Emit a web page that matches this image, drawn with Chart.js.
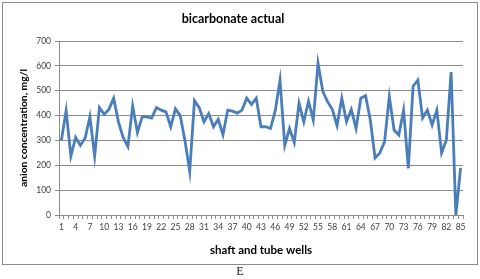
<!DOCTYPE html>
<html>
<head>
    <title>bicarbonate actual</title>
    <style>
        body { margin: 0; background: #fff; width: 480px; height: 279px; overflow: hidden; position: relative; }
        #box { position: absolute; left: 2px; top: 2px; width: 474px; height: 261px; border: 1px solid #8a8a8a; }
        #caption { position: absolute; left: 0; width: 480px; top: 264px; text-align: center; font-family: "Liberation Serif", serif; font-size: 12px; color: #222; }
    </style>
</head>
<body>
    <div id="box"><canvas id="myChart"></canvas></div>
    <div id="caption">E</div>

    <script src="https://cdn.jsdelivr.net/npm/chart.js"></script>
<script>
    // well numbers on the x axis
    const wells = [1, 2, 3, 4, 5, 6, 7, 8, 9, 10, 11, 12, 13, 14, 15, 16, 17, 18, 19, 20,
        21, 22, 23, 24, 25, 26, 27, 28, 29, 30, 31, 32, 33, 34, 35, 36, 37, 38, 39, 40,
        41, 42, 43, 44, 45, 46, 47, 48, 49, 50, 51, 52, 53, 54, 55, 56, 57, 58, 59, 60,
        61, 62, 63, 64, 65, 66, 67, 68, 69, 70, 71, 72, 73, 74, 75, 76, 77, 78, 79, 80,
        81, 82, 83, 84, 85];

    // bicarbonate, mg/l
    const bicarbonate = [300, 420, 237, 312, 280, 310, 395, 237, 432, 405,
        425, 470, 375, 312, 275, 438, 332, 395, 395, 390,
        432, 422, 415, 355, 427, 400, 300, 175, 460, 432,
        375, 408, 355, 385, 323, 422, 418, 410, 422, 470,
        445, 470, 355, 355, 348, 420, 543, 280, 348, 292,
        450, 375, 458, 382, 610, 498, 456, 425, 360, 470,
        375, 425, 348, 470, 480, 382, 230, 250, 295, 476,
        342, 322, 422, 188, 518, 543, 390, 422, 362, 422,
        250, 302, 575, 0, 190];

    const yTicks = [0, 100, 200, 300, 400, 500, 600, 700];

    const font = 'Lato';
    const gridColor = '#8c8c8c';

    new Chart(document.getElementById('myChart'), {
        type: 'line',
        data: {
            labels: wells,
            datasets: [{
                label: 'bicarbonate actual',
                data: bicarbonate,
                borderColor: '#4a7ebb',
                borderWidth: 2.8,
                pointRadius: 0,
                tension: 0,
                fill: false
            }]
        },
        options: {
            responsive: true,
            maintainAspectRatio: false,
            animation: false,
            layout: { padding: { left: 0, right: 14, top: 0, bottom: 0 } },
            plugins: {
                legend: { display: false },
                tooltip: { enabled: false },
                title: {
                    display: true,
                    text: 'bicarbonate actual',
                    color: '#000',
                    font: { family: font, size: 12.5, weight: 'bold' },
                    padding: { top: 8, bottom: 15 }
                }
            },
            scales: {
                x: {
                    offset: true,
                    afterFit: s => { s.height = 49; },
                    grid: { drawOnChartArea: false, drawTicks: true, tickLength: 4, color: gridColor, offset: true },
                    border: { color: gridColor },
                    ticks: {
                        autoSkip: false,
                        maxRotation: 0,
                        padding: 3,
                        color: '#404040',
                        font: { family: font, size: 8.5 },
                        callback: function (v, i) { return i % 3 === 0 ? wells[i] : ''; }
                    },
                    title: {
                        display: true,
                        text: 'shaft and tube wells',
                        color: '#000',
                        font: { family: font, size: 11.5, weight: 'bold' },
                        padding: { top: 0, bottom: 7 }
                    }
                },
                y: {
                    min: 0,
                    max: 700,
                    afterFit: s => { s.width = 56; },
                    afterBuildTicks: s => { s.ticks = yTicks.map(v => ({ value: v })); },
                    grid: { color: gridColor, tickLength: 4 },
                    border: { color: gridColor },
                    ticks: {
                        padding: 4,
                        color: '#404040',
                        font: { family: font, size: 8.5 }
                    },
                    title: {
                        display: true,
                        text: 'anion concentration, mg/l',
                        color: '#000',
                        font: { family: font, size: 10.3, weight: 'bold' },
                        padding: { top: 14, bottom: 0 }
                    }
                }
            }
        }
    });
</script>
</body>
</html>
